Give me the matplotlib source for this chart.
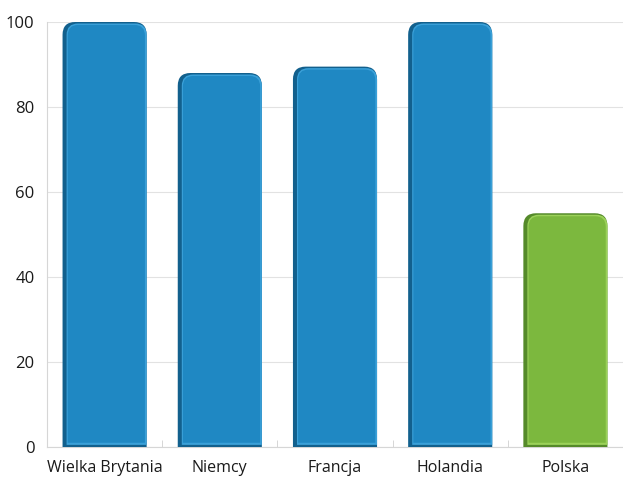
import matplotlib
matplotlib.use("Agg")
import matplotlib.pyplot as plt
from matplotlib.path import Path
from matplotlib.patches import PathPatch

categories = ["Wielka Brytania", "Niemcy", "Francja", "Holandia", "Polska"]
values = [100, 88, 89.5, 100, 55]
colors = ["#1f88c3", "#1f88c3", "#1f88c3", "#1f88c3", "#7cb83e"]
dark = ["#12608d", "#12608d", "#12608d", "#12608d", "#558a2a"]
light = ["#3aa0d8", "#3aa0d8", "#3aa0d8", "#3aa0d8", "#9bd159"]

plt.rcParams["font.family"] = ["Open Sans", "DejaVu Sans"]


def top_rounded(x0, w, h, rx, ry, y0=0.0):
    verts = [(x0, y0), (x0, h - ry), (x0, h), (x0 + rx, h),
             (x0 + w - rx, h), (x0 + w, h), (x0 + w, h - ry),
             (x0 + w, y0), (x0, y0)]
    codes = [Path.MOVETO, Path.LINETO, Path.CURVE3, Path.CURVE3,
             Path.LINETO, Path.CURVE3, Path.CURVE3, Path.LINETO,
             Path.CLOSEPOLY]
    return Path(verts, codes)


fig = plt.figure(figsize=(6.23, 4.78), dpi=100)
ax = fig.add_axes([47 / 623, 31 / 478, 576 / 623, 425 / 478])

x = list(range(len(categories)))
bars = ax.bar(x, values, width=0.73, color=colors)

for bar, c, d, l in zip(bars, colors, dark, light):
    bx, bw, bh = bar.get_x(), bar.get_width(), bar.get_height()
    bar.set_visible(False)
    # dark bevel (outer shape)
    ax.add_patch(PathPatch(top_rounded(bx, bw, bh, 0.11, 3.0),
                           facecolor=d, edgecolor="none", clip_on=False, zorder=3))
    # light right edge
    ax.add_patch(PathPatch(top_rounded(bx + 0.035, bw - 0.035, bh - 0.35, 0.1, 2.7, 0.5),
                           facecolor=l, edgecolor="none", clip_on=False, zorder=3))
    # main face
    ax.add_patch(PathPatch(top_rounded(bx + 0.045, bw - 0.06, bh - 0.7, 0.09, 2.5, 1.0),
                           facecolor=c, edgecolor="none", clip_on=False, zorder=3))

ax.set_xlim(-0.5, len(categories) - 0.5)
ax.set_ylim(0, 100)
ax.set_yticks([0, 20, 40, 60, 80, 100])
ax.set_xticks(x)
ax.set_xticklabels(categories)
ax.set_xticks([i + 0.5 for i in range(-1, len(categories))], minor=True)
ax.tick_params(axis="x", which="major", length=0, pad=9, labelsize=11.5, labelcolor="#1a1a1a")
ax.tick_params(axis="x", which="minor", length=5, direction="in", color="#d0d0d0")
ax.tick_params(axis="y", length=0, pad=9, labelsize=12, labelcolor="#1a1a1a")

ax.grid(axis="y", color="#e2e2e2", linewidth=0.8)
ax.set_axisbelow(True)
for s in ["top", "right"]:
    ax.spines[s].set_visible(False)
for s in ["left", "bottom"]:
    ax.spines[s].set_color("#d6d6d6")
    ax.spines[s].set_linewidth(0.8)

fig.savefig("out.png", dpi=100)
